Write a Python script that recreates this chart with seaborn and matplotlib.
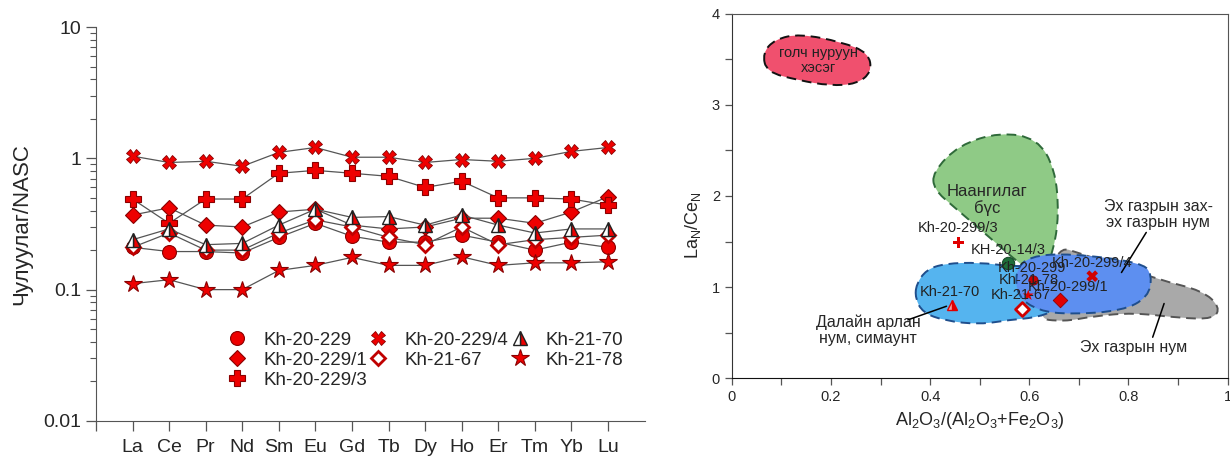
import numpy as np
import pandas as pd
import matplotlib
matplotlib.use("Agg")
import matplotlib.pyplot as plt
import seaborn as sns
from matplotlib.path import Path
from matplotlib.patches import PathPatch
from matplotlib.lines import Line2D
from matplotlib.ticker import FixedLocator, NullFormatter

sns.set_style("ticks")
plt.rcParams['font.family'] = ['Liberation Sans', 'DejaVu Sans']

# --- left panel: REE / NASC ---
ree = ['La', 'Ce', 'Pr', 'Nd', 'Sm', 'Eu', 'Gd', 'Tb', 'Dy', 'Ho', 'Er', 'Tm', 'Yb', 'Lu']
kh_229 = [0.21, 0.195, 0.195, 0.19, 0.25, 0.32, 0.255, 0.23, 0.23, 0.26, 0.23, 0.20, 0.23, 0.21]
kh_229_1 = [0.37, 0.42, 0.31, 0.30, 0.39, 0.41, 0.31, 0.29, 0.30, 0.35, 0.35, 0.32, 0.39, 0.51]
kh_229_3 = [0.49, 0.32, 0.49, 0.49, 0.77, 0.81, 0.77, 0.73, 0.60, 0.67, 0.50, 0.50, 0.49, 0.44]
kh_229_4 = [1.04, 0.93, 0.95, 0.87, 1.11, 1.21, 1.02, 1.02, 0.93, 0.98, 0.95, 1.00, 1.13, 1.21]
kh_21_67 = [0.21, 0.27, 0.20, 0.20, 0.27, 0.34, 0.30, 0.25, 0.22, 0.30, 0.22, 0.24, 0.25, 0.26]
kh_21_70 = [0.24, 0.29, 0.22, 0.225, 0.31, 0.41, 0.355, 0.36, 0.31, 0.37, 0.31, 0.27, 0.29, 0.29]
kh_21_78 = [0.111, 0.119, 0.10, 0.10, 0.14, 0.153, 0.176, 0.153, 0.153, 0.178, 0.153, 0.16, 0.16, 0.163]

samples = ['Kh-20-229', 'Kh-20-229/1', 'Kh-20-229/3', 'Kh-20-229/4', 'Kh-21-67', 'Kh-21-70', 'Kh-21-78']
series = [kh_229, kh_229_1, kh_229_3, kh_229_4, kh_21_67, kh_21_70, kh_21_78]

RED = '#ee0000'
DRED = '#8a0000'
styles = {
    'Kh-20-229': dict(marker='o', ms=10, mfc=RED, mec=DRED, mew=0.8),
    'Kh-20-229/1': dict(marker='D', ms=8, mfc=RED, mec=DRED, mew=0.8),
    'Kh-20-229/3': dict(marker='P', ms=12, mfc=RED, mec=DRED, mew=0.8),
    'Kh-20-229/4': dict(marker='X', ms=10, mfc=RED, mec=DRED, mew=0.6),
    'Kh-21-67': dict(marker='D', ms=7, mfc='white', mec='#c00000', mew=2.0),
    'Kh-21-70': dict(marker='^', ms=10, mfc=RED, mec='#222222', mew=1.0,
                     fillstyle='right', markerfacecoloralt='white'),
    'Kh-21-78': dict(marker='*', ms=13, mfc=RED, mec=DRED, mew=0.8),
}

# --- right panel: La_N/Ce_N vs Al2O3/(Al2O3+Fe2O3) ---
pt_names = ['Kh-20-299/3', 'KH-20-14/3', 'Kh-20-299', 'Kh-21-78', 'Kh-20-299/1',
            'Kh-21-67', 'Kh-20-299/4', 'Kh-21-70']
pt_x = [0.457, 0.558, 0.608, 0.598, 0.663, 0.586, 0.727, 0.444]
pt_y = [1.49, 1.26, 1.08, 0.91, 0.86, 0.76, 1.12, 0.80]
lab_x = [0.457, 0.558, 0.606, 0.600, 0.679, 0.582, 0.727, 0.440]
lab_y = [1.65, 1.41, 1.21, 1.08, 1.00, 0.91, 1.26, 0.95]

ridge_x = [0.062, 0.087, 0.137, 0.222, 0.276, 0.282, 0.252, 0.198, 0.135, 0.070]
ridge_y = [3.57, 3.72, 3.78, 3.69, 3.57, 3.36, 3.23, 3.21, 3.27, 3.36]
passive_x = [0.405, 0.458, 0.541, 0.616, 0.652, 0.660, 0.648, 0.626, 0.582, 0.519, 0.448, 0.408]
passive_y = [2.26, 2.56, 2.70, 2.63, 2.30, 1.79, 1.38, 1.08, 1.25, 1.55, 1.88, 2.07]
arc_x = [0.655, 0.703, 0.862, 0.950, 0.985, 0.972, 0.905, 0.810, 0.729, 0.669, 0.610]
arc_y = [1.45, 1.37, 1.08, 0.96, 0.78, 0.65, 0.66, 0.72, 0.68, 0.62, 0.66]
ocean_x = [0.372, 0.392, 0.430, 0.500, 0.560, 0.620, 0.665, 0.665, 0.620, 0.560, 0.500, 0.430, 0.385, 0.370]
ocean_y = [1.03, 1.19, 1.26, 1.27, 1.23, 1.23, 1.12, 0.78, 0.67, 0.64, 0.59, 0.63, 0.72, 0.88]
margin_x = [0.572, 0.600, 0.683, 0.828, 0.848, 0.840, 0.788, 0.683, 0.618, 0.576]
margin_y = [1.18, 1.34, 1.37, 1.27, 1.13, 0.89, 0.74, 0.70, 0.74, 0.90]


def blob(ax, xs, ys, face, edge, z):
    pts = np.column_stack([xs, ys])
    mids = (pts + np.roll(pts, -1, axis=0)) / 2
    verts = [mids[-1]]
    codes = [Path.MOVETO]
    for i in range(len(pts)):
        verts += [pts[i], mids[i]]
        codes += [Path.CURVE3, Path.CURVE3]
    ax.add_patch(PathPatch(Path(verts, codes), facecolor=face, edgecolor=edge,
                           ls=(0, (5, 3)), lw=1.4, zorder=z))


fig = plt.figure(figsize=(12.3, 4.59), dpi=100)
ax1 = fig.add_axes([0.078, 0.083, 0.446, 0.858])
ax2 = fig.add_axes([0.595, 0.176, 0.403, 0.794])

xpos = np.arange(1, len(ree) + 1)
handles = []
for name, vals in zip(samples, series):
    df = pd.DataFrame({'x': xpos, 'y': vals})
    sns.lineplot(data=df, x='x', y='y', ax=ax1, color='#555555', lw=0.9,
                 estimator=None, sort=False, **styles[name])
    handles.append(Line2D([], [], ls='none', **styles[name]))

ax1.set_yscale('log')
ax1.set_ylim(0.01, 10)
ax1.set_xlim(0, 15)
ax1.xaxis.set_major_locator(FixedLocator(np.arange(0, 15)))
ax1.set_xticklabels([''] + ree, fontsize=14)
ax1.set_yticks([0.01, 0.1, 1, 10])
ax1.set_yticklabels(['0.01', '0.1', '1', '10'], fontsize=14)
ax1.yaxis.set_minor_formatter(NullFormatter())
ax1.tick_params(axis='both', which='major', length=7, width=0.9, color='#555555')
ax1.tick_params(axis='x', which='major', pad=6)
ax1.tick_params(axis='y', which='minor', length=4, width=0.8, color='#555555')
ax1.set_xlabel('')
ax1.set_ylabel('Чулуулаг/NASC', fontsize=16, labelpad=8)
sns.despine(ax=ax1)
for s in ['left', 'bottom']:
    ax1.spines[s].set_color('#555555')

ax1.legend(handles, samples, ncol=3, loc='upper left', bbox_to_anchor=(0.237, 0.227),
           frameon=False, fontsize=13.5, handlelength=1.2, handletextpad=0.8,
           columnspacing=0.0, labelspacing=0.15, borderpad=0, borderaxespad=0)

# right panel fields
blob(ax2, arc_x, arc_y, '#a9a9a9', '#555555', 1)
blob(ax2, passive_x, passive_y, '#8fca86', '#2f6a3a', 2)
blob(ax2, ocean_x, ocean_y, '#55b4ef', '#1f4e8c', 3)
blob(ax2, margin_x, margin_y, '#5d8ff0', '#1f4e8c', 4)
blob(ax2, ridge_x, ridge_y, '#f0506e', '#111111', 2)

ax2.text(0.175, 3.49, 'голч нуруун\nхэсэг', ha='center', va='center', fontsize=10.5,
         linespacing=1.1, zorder=6, color='#222222')
ax2.text(0.515, 1.96, 'Наангилаг\nбүс', ha='center', va='center', fontsize=12,
         linespacing=1.1, zorder=6)
ax2.text(0.86, 1.80, 'Эх газрын зах-\nэх газрын нум', ha='center', va='center',
         fontsize=11.5, linespacing=1.1, zorder=6)
ax2.text(0.81, 0.34, 'Эх газрын нум', ha='center', va='center', fontsize=11.5, zorder=6)
ax2.text(0.275, 0.53, 'Далайн арлан\nнум, симаунт', ha='center', va='center',
         fontsize=11.5, linespacing=1.1, zorder=6)
ax2.plot([0.836, 0.786], [1.60, 1.16], color='black', lw=1.1, zorder=6)
ax2.plot([0.849, 0.872], [0.45, 0.82], color='black', lw=1.1, zorder=6)
ax2.plot([0.433, 0.355], [0.79, 0.64], color='black', lw=1.1, zorder=6)

pt_style = {
    'Kh-20-299/3': dict(marker='P', s=55, color='#e00000', edgecolor='none'),
    'KH-20-14/3': dict(marker='o', s=80, color='#1f6e3a', edgecolor='#114422'),
    'Kh-20-299': dict(marker='o', s=45, color='#cc0000', edgecolor='#800000'),
    'Kh-21-78': dict(marker='*', s=70, color='#e00000', edgecolor='none'),
    'Kh-20-299/1': dict(marker='D', s=55, color='#e00000', edgecolor='#900000'),
    'Kh-21-67': dict(marker='D', s=50, color='white', edgecolor='#d00000', linewidth=2),
    'Kh-20-299/4': dict(marker='X', s=70, color='#d00000', edgecolor='none'),
}
for name, x, y in zip(pt_names, pt_x, pt_y):
    if name == 'Kh-21-70':
        ax2.plot([x], [y], marker='^', ms=7, mfc='#e00000', mec='#e00000',
                 fillstyle='right', markerfacecoloralt='#f5a0a0', ls='none', zorder=7)
    else:
        sns.scatterplot(x=[x], y=[y], ax=ax2, zorder=7, **pt_style[name])
for name, x, y in zip(pt_names, lab_x, lab_y):
    ax2.text(x, y, name, ha='center', va='center', fontsize=10.5, zorder=8, color='#222222')

ax2.set_xlim(0, 1)
ax2.set_ylim(0, 4)
ax2.set_xticks([0, 0.2, 0.4, 0.6, 0.8, 1])
ax2.set_xticklabels(['0', '0.2', '0.4', '0.6', '0.8', '1'], fontsize=10.5)
ax2.set_xticks(np.arange(0.1, 1, 0.2), minor=True)
ax2.set_yticks([0, 1, 2, 3, 4])
ax2.set_yticklabels(['0', '1', '2', '3', '4'], fontsize=10.5)
ax2.set_yticks([0.5, 1.5, 2.5, 3.5], minor=True)
ax2.tick_params(axis='both', which='both', length=5, width=0.9, color='#555555')
ax2.set_xlabel('Al$_\\mathregular{2}$O$_\\mathregular{3}$/(Al$_\\mathregular{2}$O$_\\mathregular{3}$+Fe$_\\mathregular{2}$O$_\\mathregular{3}$)',
               fontsize=13, labelpad=4)
ax2.set_ylabel('La$_\\mathregular{N}$/Ce$_\\mathregular{N}$', fontsize=13)
ax2.yaxis.set_label_coords(-0.058, 0.42)
for s in ax2.spines.values():
    s.set_color('#555555')
ax2.spines['left'].set_color('#333333')
ax2.spines['bottom'].set_color('#111111')

fig.savefig('out.png', dpi=100)
